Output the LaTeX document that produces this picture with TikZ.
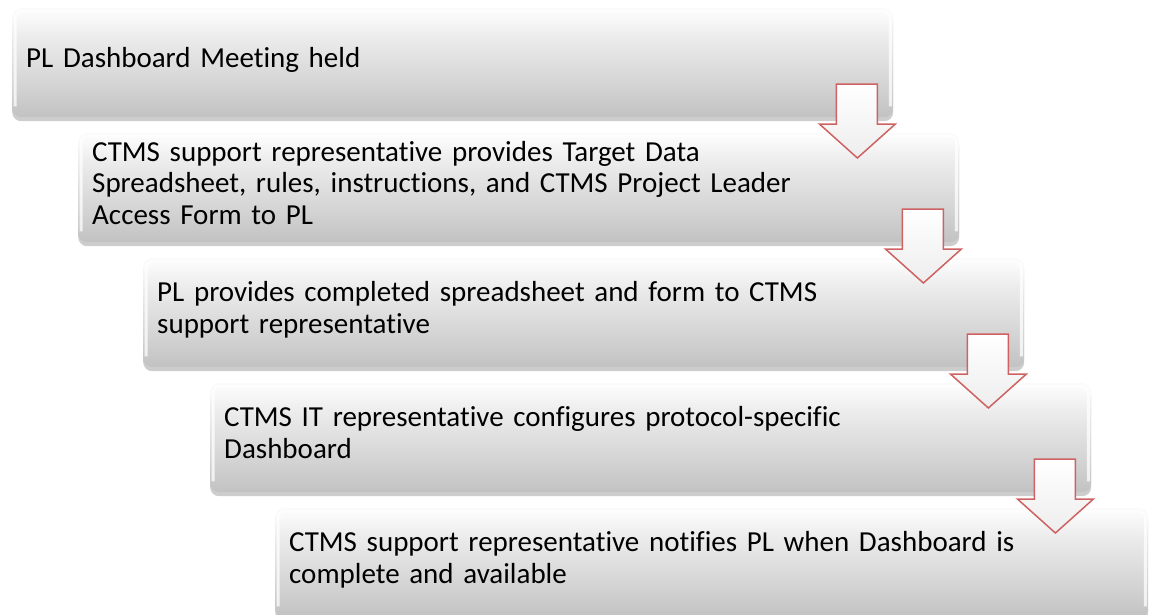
\documentclass[tikz,border=0pt]{standalone}
\usepackage{fontspec}
\setmainfont{Carlito}[Ligatures=NoCommon]
\usetikzlibrary{shadows,calc}
\definecolor{arrowred}{RGB}{206,98,98}
\definecolor{gA}{RGB}{194,194,194}
\definecolor{gB}{RGB}{212,212,212}
\definecolor{gC}{RGB}{236,236,236}
\definecolor{gD}{RGB}{250,250,250}
\pgfdeclareverticalshading{boxshade}{100bp}{color(0bp)=(gA); color(25bp)=(gA); color(40bp)=(gB); color(62bp)=(gC); color(72bp)=(gD); color(100bp)=(gD)}
\begin{document}
\begin{tikzpicture}[x=1pt,y=-1pt,
  stepbox/.style={anchor=north west, rounded corners=9pt, draw=none,
    shading=boxshade, minimum width=881pt, minimum height=109pt,
    text width=853pt, inner xsep=14pt, inner ysep=0pt, align=left,
    font=\fontsize{29}{31.7}\selectfont,
    execute at begin node={\rule{0pt}{22pt}},
    execute at end node={\rule[-12pt]{0pt}{0pt}},
    drop shadow={shadow xshift=0pt, shadow yshift=-4pt, opacity=.28, fill=black!70}},
  hilite/.style={draw=white, line width=3pt, opacity=.75, rounded corners=7pt},
  flowarrow/.style={draw=arrowred, line width=1.5pt, line join=miter,
    top color=white, bottom color=black!7},
]
\useasboundingbox (0,0) rectangle (1149,614);

\node[stepbox] (b1) at (12,8) {PL Dashboard Meeting held};
\node[stepbox] (b2) at (78,133) {CTMS support representative provides Target Data\\Spreadsheet, rules, instructions, and CTMS Project Leader\\Access Form to PL};
\node[stepbox] (b3) at (143,258) {PL provides completed spreadsheet and form to CTMS\\support representative};
\node[stepbox] (b4) at (210,383) {CTMS IT representative configures protocol-specific\\Dashboard};
\node[stepbox, minimum width=873pt, text width=845pt] (b5) at (275,508) {CTMS support representative notifies PL when Dashboard is\\complete and available};

% bevel highlights on the left, top and right edges
\foreach \b in {b1,b2,b3,b4,b5}{
  \draw[hilite] ($(\b.south west)+(3,-11)$) -- ($(\b.north west)+(3,3)$)
    -- ($(\b.north east)+(-3,3)$) -- ($(\b.south east)+(-3,-11)$);
}

% block arrows between consecutive steps
\foreach \b in {b1,b2,b3,b4}{
  \begin{scope}[shift={(\b.north east)}]
    \path[flowarrow] (-57,76) -- (-16,76) -- (-16,116) -- (2,116) -- (-36,150)
      -- (-74,116) -- (-57,116) -- cycle;
  \end{scope}
}
\end{tikzpicture}
\end{document}
